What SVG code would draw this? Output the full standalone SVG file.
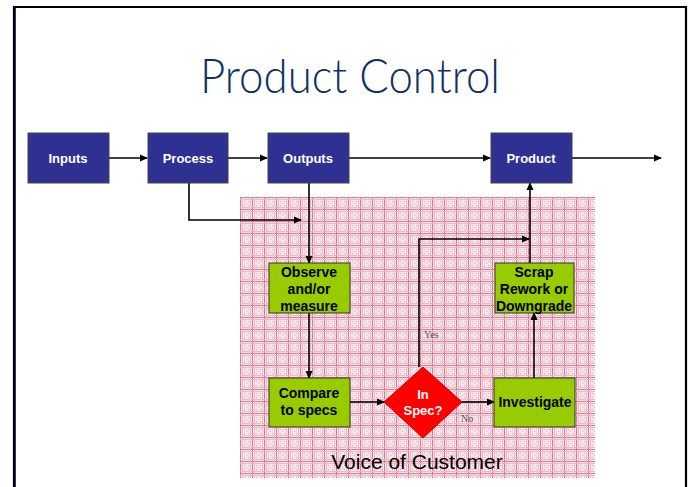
<svg xmlns="http://www.w3.org/2000/svg" width="689" height="487" viewBox="0 0 689 487">
<defs>
<pattern id="dots" x="240" y="197" width="12" height="12" patternUnits="userSpaceOnUse">
<rect width="12" height="12" fill="#f8e6eb"/>
<rect x="0" y="0" width="12" height="1" fill="#dc7590"/>
<rect x="0" y="0" width="1" height="12" fill="#dc7590"/>
<rect x="0" y="2" width="12" height="1" fill="#eeb9c6"/>
<rect x="2" y="0" width="1" height="12" fill="#eeb9c6"/>
<rect x="0" y="10" width="12" height="1" fill="#eeb9c6"/>
<rect x="10" y="0" width="1" height="12" fill="#eeb9c6"/>
<rect x="4" y="4" width="1" height="1" fill="#e8a6b6"/>
<rect x="6" y="6" width="1" height="1" fill="#e8a6b6"/>
<rect x="8" y="4" width="1" height="1" fill="#e8a6b6"/>
<rect x="4" y="8" width="1" height="1" fill="#e8a6b6"/>
<rect x="8" y="8" width="1" height="1" fill="#e8a6b6"/>
</pattern>
<marker id="arr" markerWidth="8" markerHeight="8" refX="7" refY="4" orient="auto" markerUnits="userSpaceOnUse">
<path d="M0,0.5 L8,4 L0,7.5 Z" fill="#000"/>
</marker>
</defs>
<style>
.blue{fill:#2e3192;stroke:#444;stroke-width:1}
.green{fill:#99cc00;stroke:#333;stroke-width:1}
.wt{font-family:"Liberation Sans",Arial,sans-serif;font-weight:bold;font-size:13px;fill:#fff;text-anchor:middle}
.bt{font-family:"Liberation Sans",Arial,sans-serif;font-weight:bold;font-size:14px;fill:#000;text-anchor:middle}
.ln{fill:none;stroke:#000;stroke-width:1.6}
.sm{font-family:"Liberation Serif","Times New Roman",serif;font-size:10px;fill:#555}
</style>
<rect x="0" y="0" width="689" height="487" fill="#fff"/>
<path d="M14,487 L14,7 L686,7 L686,487" fill="none" stroke="#000" stroke-width="2.2"/>
<line x1="15.5" y1="8" x2="15.5" y2="487" stroke="#1a3a6a" stroke-width="1"/>
<text x="350" y="93" font-family="Lato,'Liberation Sans',Arial,sans-serif" font-weight="300" font-size="48" fill="#0f3261" text-anchor="middle" textLength="300" lengthAdjust="spacingAndGlyphs">Product Control</text>
<rect id="voc-bg" x="240" y="197" width="355" height="281" fill="url(#dots)"/>
<g id="connectors">
<line class="ln" x1="109" y1="158" x2="147" y2="158" marker-end="url(#arr)"/>
<line class="ln" x1="228" y1="158" x2="267" y2="158" marker-end="url(#arr)"/>
<line class="ln" x1="349" y1="158" x2="490" y2="158" marker-end="url(#arr)"/>
<line class="ln" x1="572" y1="158" x2="661" y2="158" marker-end="url(#arr)"/>
<polyline class="ln" points="189,183 189,220 301,220" marker-end="url(#arr)"/>
<line class="ln" x1="309" y1="183" x2="309" y2="263" marker-end="url(#arr)"/>
<line class="ln" x1="309" y1="313" x2="309" y2="378" marker-end="url(#arr)"/>
<line class="ln" x1="350" y1="402" x2="384" y2="402" marker-end="url(#arr)"/>
<line class="ln" x1="462" y1="402" x2="494" y2="402" marker-end="url(#arr)"/>
<polyline class="ln" points="419,367 419,239 529,239" marker-end="url(#arr)"/>
<line class="ln" x1="530" y1="263" x2="530" y2="183" marker-end="url(#arr)"/>
<line class="ln" x1="534" y1="378" x2="534" y2="313" marker-end="url(#arr)"/>
<text class="sm" x="424" y="338">Yes</text>
<text class="sm" x="461" y="422">No</text>
</g>
<g id="inputs"><rect class="blue" x="28" y="133" width="81" height="50"/><text class="wt" x="68" y="163">Inputs</text></g>
<g id="process"><rect class="blue" x="148" y="133" width="80" height="50"/><text class="wt" x="188" y="163">Process</text></g>
<g id="outputs"><rect class="blue" x="268" y="133" width="81" height="50"/><text class="wt" x="308" y="163">Outputs</text></g>
<g id="product"><rect class="blue" x="491" y="133" width="81" height="50"/><text class="wt" x="531" y="163">Product</text></g>
<g id="observe"><rect class="green" x="269" y="263" width="81" height="50"/><text class="bt" x="309" y="277">Observe</text><text class="bt" x="309" y="294">and/or</text><text class="bt" x="309" y="311">measure</text></g>
<g id="scrap"><rect class="green" x="495" y="263" width="79" height="50"/><text class="bt" x="534" y="277">Scrap</text><text class="bt" x="534" y="294">Rework or</text><text class="bt" x="534" y="311">Downgrade</text></g>
<g id="compare"><rect class="green" x="269" y="378" width="81" height="49"/><text class="bt" x="309" y="398">Compare</text><text class="bt" x="309" y="415">to specs</text></g>
<g id="inspec"><polygon points="423,367 462,402 423,438 384,402" fill="#ff0000" stroke="#cc0000" stroke-width="1"/><text class="wt" x="423" y="399">In</text><text class="wt" x="423" y="415">Spec?</text></g>
<g id="investigate"><rect class="green" x="494" y="378" width="81" height="49"/><text class="bt" x="535" y="407">Investigate</text></g>
<text x="417" y="469" font-family="Liberation Sans,Arial,sans-serif" font-size="21" fill="#000" text-anchor="middle">Voice of Customer</text>
</svg>
